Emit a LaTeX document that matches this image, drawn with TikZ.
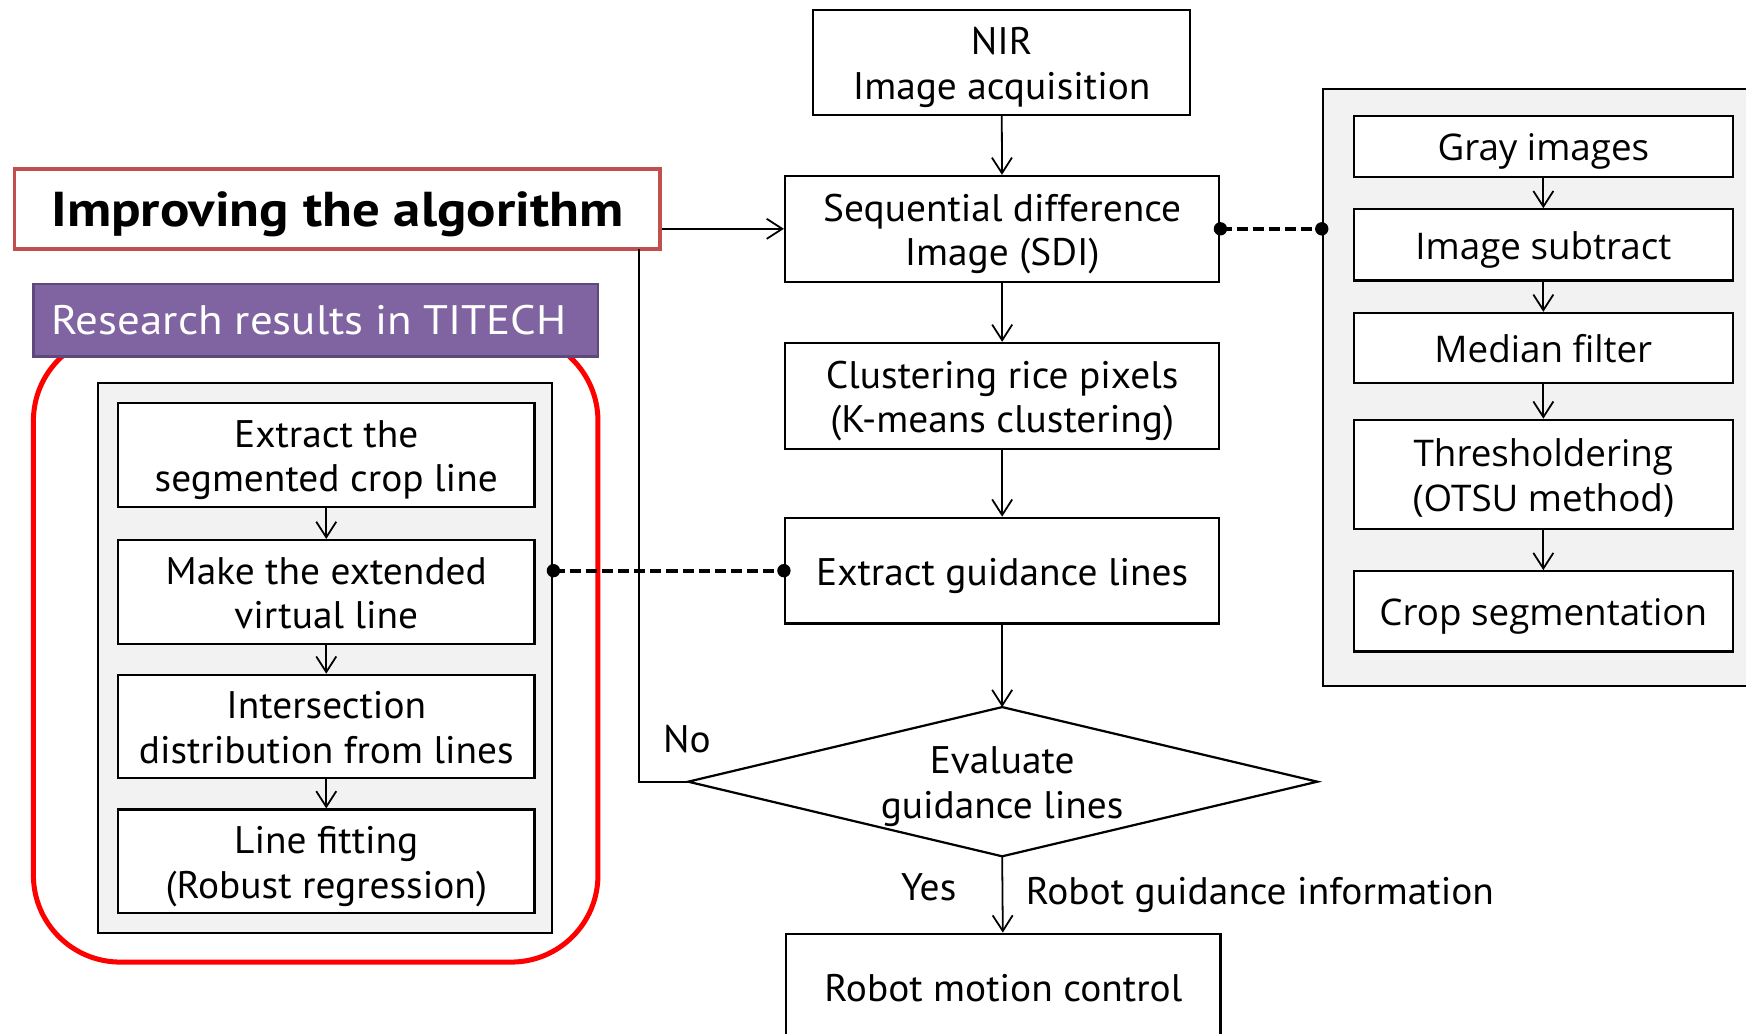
\documentclass[tikz,border=0pt]{standalone}
\usepackage{fontspec}
\setmainfont{PT Sans}
\newfontfamily\widefont{Open Sans}
\newfontfamily\narrowfont[FakeStretch=1.025]{PT Sans}
\newfontfamily\resfont[FakeStretch=1.09]{PT Sans}
\newfontfamily\impfont[FakeStretch=1.12]{PT Sans}
\usetikzlibrary{arrows.meta,calc}
\definecolor{impred}{HTML}{C0504D}
\definecolor{purp}{HTML}{8064A2}
\definecolor{purpdark}{HTML}{5F497A}
\definecolor{panel}{HTML}{F2F2F2}
\newcommand{\boxtext}[2][-5pt]{\raisebox{#1}[\height][\depth]{\begin{tabular}{@{}c@{}}#2\end{tabular}}}
\tikzset{
  box/.style={draw=black, line width=2pt, fill=white, inner sep=0pt,
    font=\narrowfont\fontsize{34.5}{40}\selectfont},
  rbox/.style={draw=black, line width=2pt, fill=white, inner sep=0pt,
    font=\widefont\fontsize{33}{40}\selectfont, minimum width=340},
  lbox/.style={box, minimum width=374, minimum height=93},
  cbox/.style={box, minimum width=390, minimum height=95},
  arr/.style={line width=1.6pt, -{Straight Barb[length=14pt,width=18pt,line width=1.6pt]}},
  dashconn/.style={line width=3.5pt, dash pattern=on 10pt off 4.5pt},
  lbl/.style={font=\narrowfont\fontsize{34.5}{40}\selectfont, inner sep=0pt},
}
\begin{document}
\begin{tikzpicture}[x=1pt,y=-1pt]
\useasboundingbox (0,0) rectangle (1568,928);
\clip (0,0) rectangle (1568,928);
\fill[white] (0,0) rectangle (1568,928);

% ---- left part ----
\draw[red, line width=4.5pt, rounded corners=78pt] (30,300) rectangle (537,864);
\node[draw=purpdark, line width=2.5pt, fill=purp, minimum width=507, minimum height=65, inner sep=0pt,
  text=white, font=\resfont\fontsize{37}{40}\selectfont] (res) at (283.5,287.5) {\boxtext[-5pt]{\hspace*{-12pt}Research results in TITECH}};
\node[draw=impred, line width=3.5pt, fill=white, minimum width=580, minimum height=72, inner sep=0pt,
  font=\impfont\fontsize{44}{48}\selectfont\bfseries] (imp) at (303,188) {\boxtext[-6pt]{Improving the algorithm}};

\node[draw=black, line width=2pt, fill=panel, minimum width=408, minimum height=494, inner sep=0pt] (lpanel) at (292,591) {};
\node[lbox] (l1) at (293,408.5) {\boxtext{Extract the\\segmented crop line}};
\node[lbox] (l2) at (293,531.5) {\boxtext{Make the extended\\virtual line}};
\node[lbox] (l3) at (293,652.5) {\boxtext{Intersection\\distribution from lines}};
\node[lbox] (l4) at (293,773.5) {\boxtext{Line fitting\\(Robust regression)}};
\draw[arr] (l1) -- (l2);
\draw[arr] (l2) -- (l3);
\draw[arr] (l3) -- (l4);

% ---- right panel ----
\node[draw=black, line width=2pt, fill=panel, minimum width=400, minimum height=536, inner sep=0pt, anchor=north west] (rpanel) at (1187,79) {};
\node[rbox, minimum height=55] (r1) at (1386,131.5) {\boxtext{Gray images}};
\node[rbox, minimum height=64] (r2) at (1386,220) {\boxtext{Image subtract}};
\node[rbox, minimum height=63] (r3) at (1386,312.5) {\boxtext{Median filter}};
\node[rbox, minimum height=98] (r4) at (1386,426) {\boxtext{Thresholdering\\(OTSU method)}};
\node[rbox, minimum height=72] (r5) at (1386,549) {\boxtext{Crop segmentation}};
\draw[arr] (r1) -- (r2);
\draw[arr] (r2) -- (r3);
\draw[arr] (r3) -- (r4);
\draw[arr] (r4) -- (r5);

% ---- center column ----
\node[box, minimum width=339, minimum height=94] (nir) at (899.5,56) {\boxtext{NIR\\Image acquisition}};
\node[cbox] (sdi) at (900,205.5) {\boxtext{Sequential difference\\Image (SDI)}};
\node[cbox] (clu) at (900,355.5) {\boxtext{Clustering rice pixels\\(K-means clustering)}};
\node[cbox] (ext) at (900,512.5) {\boxtext{Extract guidance lines}};
\coordinate (dt) at (900,635);
\coordinate (db) at (900,769);
\coordinate (dl) at (618,702);
\coordinate (dr) at (1183,702);
\draw[line width=2pt, fill=white] (dt) -- (dr) -- (db) -- (dl) -- cycle;
\node[lbl] (eva) at (900,702) {\boxtext{Evaluate\\guidance lines}};
\node[cbox] (rob) at (901,886) {\boxtext{Robot motion control}};

\draw[arr] (nir) -- (sdi);
\draw[arr] (sdi) -- (clu);
\draw[arr] (clu) -- (ext);
\draw[arr] (ext) -- (dt);
\draw[arr] (db) -- (rob);
\draw[arr] (imp.east |- sdi.west) -- (sdi.west);

\coordinate (loop) at (574,224);
\draw[line width=2pt] (dl) -| (loop);

\node[lbl] (no) at (617,664) {\boxtext[-4pt]{No}};
\node[lbl] (yes) at (834,797) {\boxtext[-4pt]{Yes}};
\node[lbl, anchor=west] (rgi) at (921,800) {\boxtext[-4pt]{Robot guidance information}};

% dashed links
\coordinate (rpl) at (rpanel.west |- sdi.east);
\draw[dashconn] (sdi.east) -- (rpl);
\fill (sdi.east) circle (6);
\fill (rpl) circle (6);
\coordinate (lpr) at (lpanel.east |- ext.west);
\draw[dashconn] (lpr) -- (ext.west);
\fill (lpr) circle (6);
\fill (ext.west) circle (6);
\end{tikzpicture}
\end{document}
